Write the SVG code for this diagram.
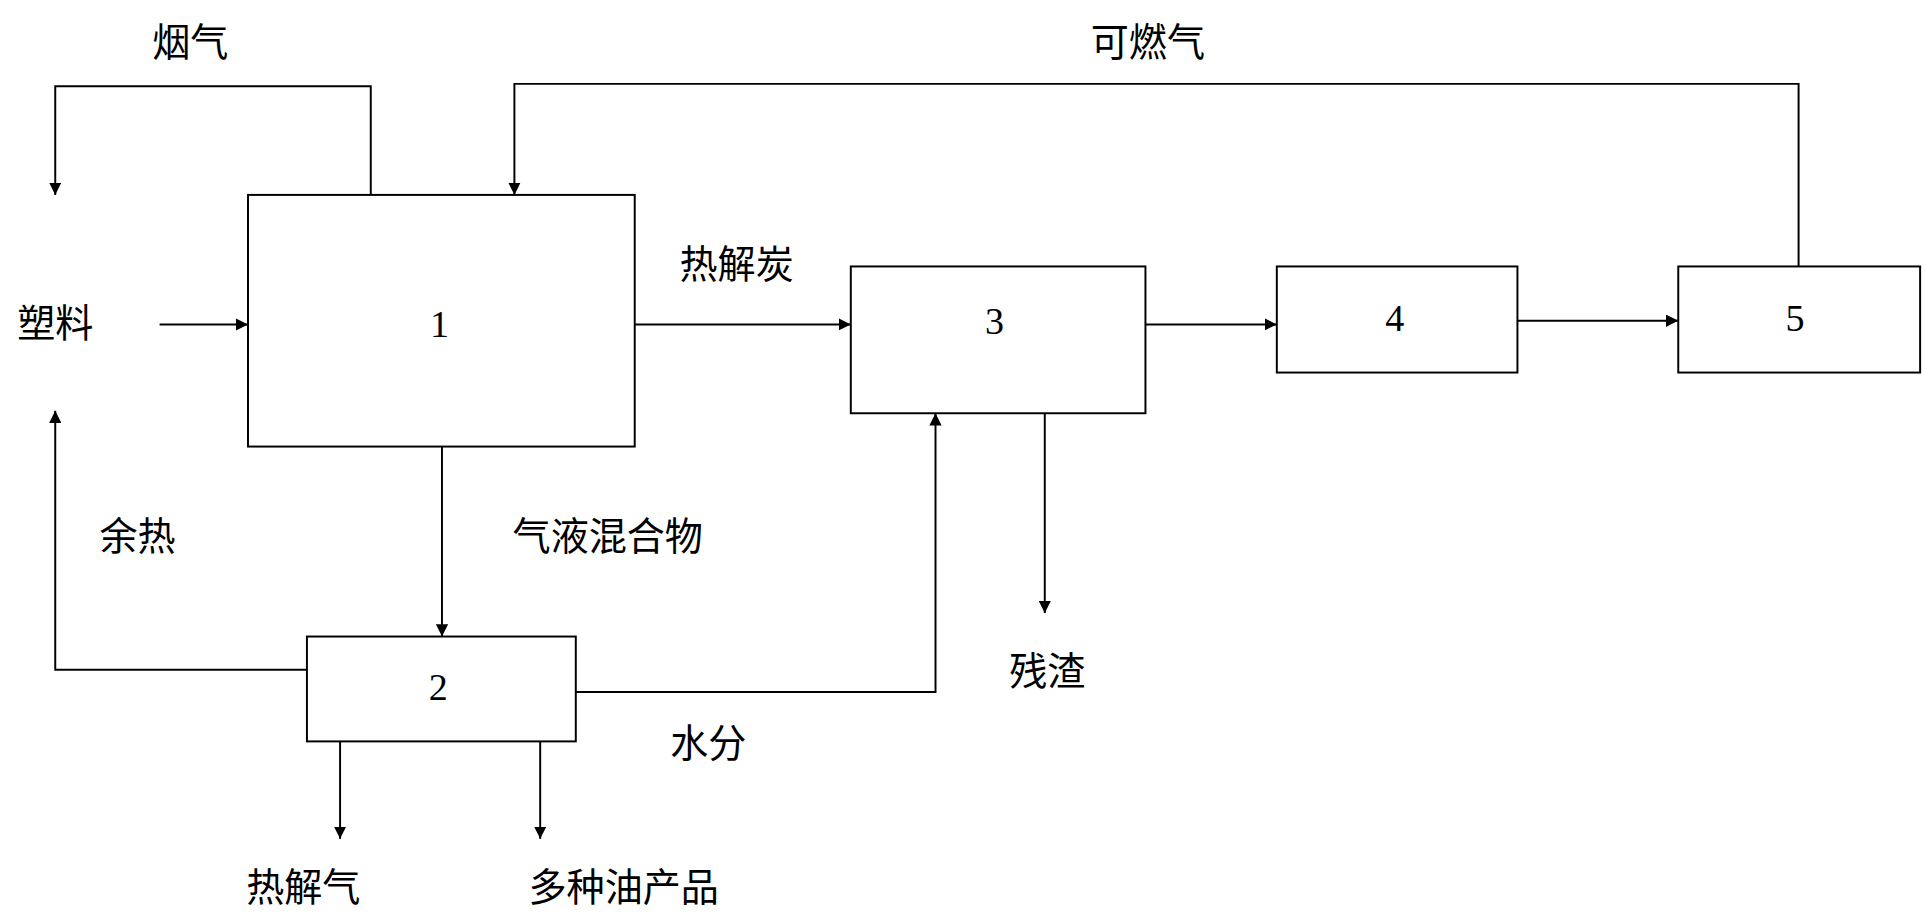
<svg xmlns="http://www.w3.org/2000/svg" width="1925" height="919" viewBox="0 0 1925 919">
<defs><marker id="a" viewBox="0 0 10 10" refX="10" refY="5" markerWidth="10" markerHeight="10" markerUnits="userSpaceOnUse" orient="auto"><path d="M0,0L10,5L0,10z" fill="#000"/></marker>
<style>.b{fill:#fff;stroke:#000;stroke-width:1.6}.l{fill:none;stroke:#000;stroke-width:1.6}.t{font-family:"Liberation Serif","Noto Sans CJK SC",serif;font-size:31px;text-anchor:middle;dominant-baseline:central}</style></defs>
<rect width="1925" height="919" fill="#fff"/>
<g transform="scale(1.2277,1.2336)">
<g id="connectors">
<polyline class="l" points="302,158 302,70 45,70 45,158" marker-end="url(#a)"/>
<polyline class="l" points="250,543 45,543 45,333" marker-end="url(#a)"/>
<line class="l" x1="130" y1="263" x2="202" y2="263" marker-end="url(#a)"/>
<line class="l" x1="517" y1="263" x2="693" y2="263" marker-end="url(#a)"/>
<line class="l" x1="933" y1="263" x2="1040" y2="263" marker-end="url(#a)"/>
<line class="l" x1="1236" y1="260" x2="1367" y2="260" marker-end="url(#a)"/>
<polyline class="l" points="1465,216 1465,68 419,68 419,158" marker-end="url(#a)"/>
<line class="l" x1="360" y1="362" x2="360" y2="516" marker-end="url(#a)"/>
<polyline class="l" points="469,561 762,561 762,335" marker-end="url(#a)"/>
<line class="l" x1="851" y1="335" x2="851" y2="497" marker-end="url(#a)"/>
<line class="l" x1="277" y1="601" x2="277" y2="680" marker-end="url(#a)"/>
<line class="l" x1="440" y1="601" x2="440" y2="680" marker-end="url(#a)"/>
</g>
<g id="n1"><rect class="b" x="202" y="158" width="315" height="204"/><text class="t" x="358" y="263">1</text></g>
<g id="n2"><rect class="b" x="250" y="516" width="219" height="85"/><text class="t" x="357" y="557">2</text></g>
<g id="n3"><rect class="b" x="693" y="216" width="240" height="119"/><text class="t" x="810" y="260">3</text></g>
<g id="n4"><rect class="b" x="1040" y="216" width="196" height="86"/><text class="t" x="1136" y="258">4</text></g>
<g id="n5"><rect class="b" x="1367" y="216" width="197" height="86"/><text class="t" x="1462" y="258">5</text></g>
<g id="labels">
<text class="t" x="155" y="35">烟气</text>
<text class="t" x="935" y="35">可燃气</text>
<text class="t" x="45" y="263">塑料</text>
<text class="t" x="600" y="215">热解炭</text>
<text class="t" x="112" y="435">余热</text>
<text class="t" x="495" y="435">气液混合物</text>
<text class="t" x="577" y="603">水分</text>
<text class="t" x="853" y="545">残渣</text>
<text class="t" x="247" y="720">热解气</text>
<text class="t" x="508" y="720">多种油产品</text>
</g>
</g>
</svg>
